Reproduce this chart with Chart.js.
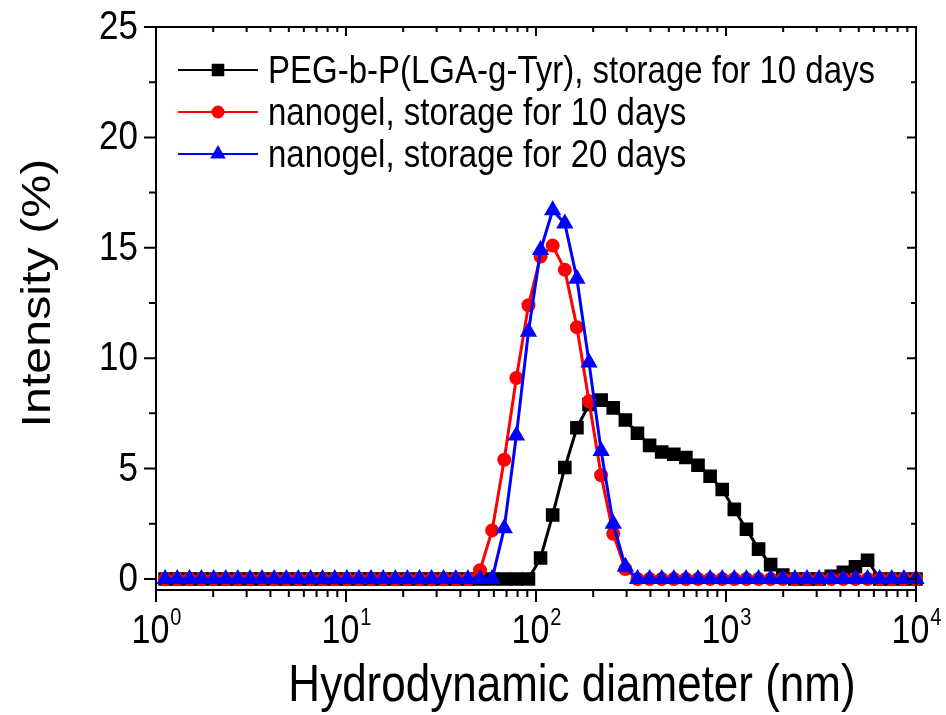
<!DOCTYPE html>
<html>
<head>
<meta charset="utf-8">
<script src="https://cdn.jsdelivr.net/npm/chart.js@4.4.1/dist/chart.umd.min.js"></script>
<style>
  html, body { margin: 0; padding: 0; background: #fff; }
  #wrap { width: 946px; height: 715px; }
</style>
</head>
<body>
<div id="wrap"><canvas id="Chart" width="946" height="715"></canvas></div>
<script>
// size bins (nm)
const diameters = [
  1.117, 1.294, 1.499, 1.736, 2.010, 2.328, 2.696, 3.122, 3.615, 4.187,
  4.849, 5.615, 6.503, 7.531, 8.721, 10.10, 11.70, 13.54, 15.69, 18.17,
  21.04, 24.36, 28.21, 32.67, 37.84, 43.82, 50.75, 58.77, 68.06, 78.82,
  91.28, 105.7, 122.4, 141.8, 164.2, 190.1, 220.2, 255.0, 295.3, 342.0,
  396.1, 458.7, 531.2, 615.1, 712.4, 825.0, 955.4, 1106, 1281, 1484,
  1718, 1990, 2305, 2669, 3091, 3580, 4145, 4801, 5560, 6439,
  7456, 8635, 10000
];

// intensity (%)
const pegTyr10 = [
  0, 0, 0, 0, 0, 0, 0, 0, 0, 0,
  0, 0, 0, 0, 0, 0, 0, 0, 0, 0,
  0, 0, 0, 0, 0, 0, 0, 0, 0, 0,
  0, 0.95, 2.9, 5.05, 6.85, 7.9, 8.1, 7.75, 7.2, 6.6,
  6.05, 5.75, 5.65, 5.5, 5.15, 4.65, 4.05, 3.15, 2.25, 1.35,
  0.65, 0.18, 0, 0, 0, 0.12, 0.3, 0.55, 0.85, 0,
  0, 0, 0
];
const nanogel10 = [
  0, 0, 0, 0, 0, 0, 0, 0, 0, 0,
  0, 0, 0, 0, 0, 0, 0, 0, 0, 0,
  0, 0, 0, 0, 0, 0, 0.4, 2.2, 5.4, 9.1,
  12.4, 14.6, 15.1, 14.0, 11.4, 8.05, 4.7, 2.05, 0.45, 0,
  0, 0, 0, 0, 0, 0, 0, 0, 0, 0,
  0, 0, 0, 0, 0, 0, 0, 0, 0, 0,
  0, 0, 0
];
const nanogel20 = [
  0, 0, 0, 0, 0, 0, 0, 0, 0, 0,
  0, 0, 0, 0, 0, 0, 0, 0, 0, 0,
  0, 0, 0, 0, 0, 0, 0, 0, 2.3, 6.5,
  11.2, 14.9, 16.7, 16.1, 13.6, 9.8, 5.8, 2.5, 0.55, 0,
  0, 0, 0, 0, 0, 0, 0, 0, 0, 0,
  0, 0, 0, 0, 0, 0, 0, 0, 0, 0,
  0, 0, 0
];

const seriesNames = [
  'PEG-b-P(LGA-g-Tyr), storage for 10 days',
  'nanogel, storage for 10 days',
  'nanogel, storage for 20 days'
];
const yTicks = [0, 5, 10, 15, 20, 25];
const yMinorTicks = [2.5, 7.5, 12.5, 17.5, 22.5];
const xDecades = [1, 10, 100, 1000, 10000];
const xExponents = ['0', '1', '2', '3', '4'];
const xMinorSteps = [2, 3, 4, 5, 6, 7, 8, 9];

const FONT = '"Liberation Sans", Arial, sans-serif';
const STRETCH = 1.18; // text in the figure is a bit taller than wide

function toPoints(values) {
  return diameters.map((d, i) => ({ x: d, y: values[i] }));
}

// stretched text helper
function drawText(ctx, text, x, y, size, align) {
  ctx.save();
  ctx.translate(x, y);
  ctx.scale(1, STRETCH);
  ctx.font = size + 'px ' + FONT;
  ctx.textAlign = align;
  ctx.textBaseline = 'alphabetic';
  ctx.fillText(text, 0, 0);
  ctx.restore();
}

// frame, ticks, labels, titles and legend
const axesPlugin = {
  id: 'originAxes',
  afterDraw(chart) {
    const ctx = chart.ctx;
    const a = chart.chartArea;
    const xs = chart.scales.x;
    const ys = chart.scales.y;
    ctx.save();
    ctx.strokeStyle = '#000';
    ctx.fillStyle = '#000';
    ctx.lineWidth = 2;
    ctx.strokeRect(a.left, a.top, a.right - a.left, a.bottom - a.top);

    ctx.beginPath();
    // x ticks
    xDecades.forEach((d, k) => {
      const px = xs.getPixelForValue(d);
      ctx.moveTo(px, a.bottom); ctx.lineTo(px, a.bottom + 12);
      ctx.moveTo(px, a.top); ctx.lineTo(px, a.top + 9);
      if (k < xDecades.length - 1) {
        xMinorSteps.forEach(m => {
          const mx = xs.getPixelForValue(d * m);
          ctx.moveTo(mx, a.bottom); ctx.lineTo(mx, a.bottom + 7);
          ctx.moveTo(mx, a.top); ctx.lineTo(mx, a.top + 5);
        });
      }
    });
    // y ticks
    yTicks.forEach(v => {
      const py = ys.getPixelForValue(v);
      ctx.moveTo(a.left, py); ctx.lineTo(a.left - 12, py);
      ctx.moveTo(a.right, py); ctx.lineTo(a.right - 9, py);
    });
    yMinorTicks.forEach(v => {
      const py = ys.getPixelForValue(v);
      ctx.moveTo(a.left, py); ctx.lineTo(a.left - 7, py);
      ctx.moveTo(a.right, py); ctx.lineTo(a.right - 5, py);
    });
    ctx.stroke();

    // y tick labels
    yTicks.forEach(v => {
      const py = ys.getPixelForValue(v);
      drawText(ctx, String(v), a.left - 18, py + 12, 35, 'right');
    });

    // x tick labels: 10 with superscript exponent
    xDecades.forEach((d, k) => {
      const px = xs.getPixelForValue(d);
      ctx.font = '34px ' + FONT;
      const wBase = ctx.measureText('10').width;
      ctx.font = '20px ' + FONT;
      const wExp = ctx.measureText(xExponents[k]).width;
      const left = px - (wBase + wExp) / 2;
      drawText(ctx, '10', left, 643, 34, 'left');
      drawText(ctx, xExponents[k], left + wBase + 1, 625, 20, 'left');
    });

    // axis titles
    drawText(ctx, 'Hydrodynamic diameter (nm)', 572, 701, 44, 'center');
    ctx.save();
    ctx.translate(50, 293);
    ctx.rotate(-Math.PI / 2);
    ctx.scale(STRETCH, 1);
    ctx.font = '41px ' + FONT;
    ctx.textAlign = 'center';
    ctx.textBaseline = 'alphabetic';
    ctx.fillText('Intensity (%)', 0, 0);
    ctx.restore();

    // legend (black, red, blue from top)
    const rows = [70, 112, 154];
    const order = [2, 1, 0];
    seriesNames.forEach((name, i) => {
      const ds = chart.data.datasets[order[i]];
      const y = rows[i];
      ctx.strokeStyle = ds.borderColor;
      ctx.fillStyle = ds.borderColor;
      ctx.lineWidth = 2;
      ctx.beginPath();
      ctx.moveTo(178, y); ctx.lineTo(258, y);
      ctx.stroke();
      Chart.helpers.drawPoint(ctx, {
        pointStyle: ds.pointStyle, radius: ds.pointRadius, rotation: 0, borderWidth: 1
      }, 218, y);
      ctx.fillStyle = '#000';
      drawText(ctx, name, 268, y + 13, 33, 'left');
    });
    ctx.restore();
  }
};

const ctx = document.getElementById('Chart').getContext('2d');
const myChart = new Chart(ctx, {
  type: 'line',
  data: {
    datasets: [
      {
        label: seriesNames[2],
        data: toPoints(nanogel20),
        borderColor: '#0000ff',
        backgroundColor: '#0000ff',
        pointStyle: 'triangle',
        pointRadius: 7,
        borderWidth: 3,
        order: 0
      },
      {
        label: seriesNames[1],
        data: toPoints(nanogel10),
        borderColor: '#ff0000',
        backgroundColor: '#ff0000',
        pointStyle: 'circle',
        pointRadius: 5.5,
        borderWidth: 3,
        order: 1
      },
      {
        label: seriesNames[0],
        data: toPoints(pegTyr10),
        borderColor: '#000000',
        backgroundColor: '#000000',
        pointStyle: 'rect',
        pointRadius: 7.5,
        borderWidth: 3,
        order: 2
      }
    ]
  },
  options: {
    responsive: false,
    animation: false,
    devicePixelRatio: 1,
    layout: { padding: { top: 27, right: 30, left: 0, bottom: 0 } },
    elements: {
      line: { tension: 0 },
      point: { borderWidth: 1, hoverRadius: 0 }
    },
    datasets: { line: { clip: false } },
    plugins: { legend: { display: false }, tooltip: { enabled: false } },
    scales: {
      x: {
        type: 'logarithmic',
        min: 1,
        max: 10000,
        grid: { display: false },
        border: { display: false },
        ticks: { display: false },
        afterFit: (scale) => { scale.height = 125; }
      },
      y: {
        type: 'linear',
        min: -0.5,
        max: 25,
        grid: { display: false },
        border: { display: false },
        ticks: { display: false },
        afterFit: (scale) => { scale.width = 156; }
      }
    }
  },
  plugins: [axesPlugin]
});
</script>
</body>
</html>
